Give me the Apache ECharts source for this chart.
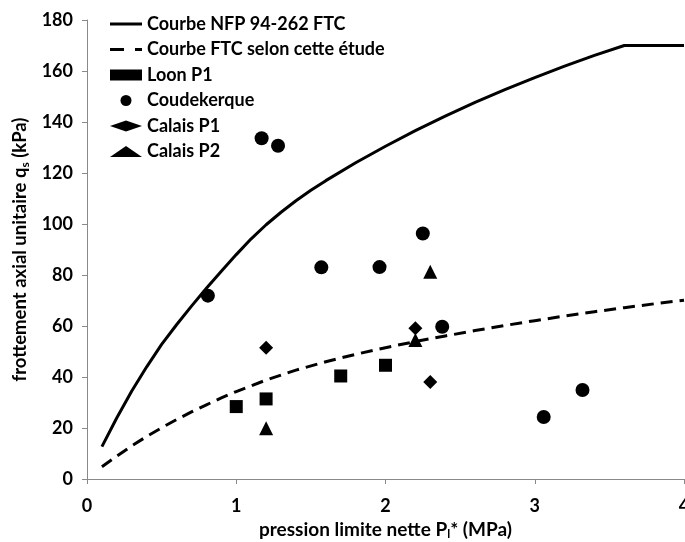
<!DOCTYPE html>
<html>
<head>
<meta charset="utf-8">
<script src="https://cdn.jsdelivr.net/npm/echarts@6/dist/echarts.min.js"></script>
<style>html,body{margin:0;padding:0;background:#fff}#c{width:685px;height:542px}</style>
</head>
<body>
<div id="c"></div>
<script>
// Curves
const nfpX = [0.1,0.2,0.3,0.4,0.5,0.6,0.7,0.8,0.9,1.0,1.1,1.2,1.3,1.4,1.5,1.6,1.8,2.0,2.2,2.4,2.6,2.8,3.0,3.2,3.4,3.6,4.0];
const nfpY = [12.7,24,34.5,44,52.8,60.5,67.8,74.8,81.5,88,94.2,99.7,104.6,109.1,113.2,117,124,130.5,136.6,142.3,147.7,152.7,157.4,161.9,166.1,170,170];
const ftcX = [0.1,0.2,0.3,0.4,0.5,0.6,0.7,0.8,0.9,1.0,1.2,1.4,1.6,1.8,2.0,2.2,2.4,2.6,2.8,3.0,3.2,3.4,3.6,3.8,4.0];
const ftcY = [4.8,9,13,16.7,20.1,23.3,26.3,29.1,31.8,34.3,38.8,42.7,46,48.9,51.5,53.9,56.1,58.2,60.2,62.1,63.9,65.6,67.2,68.7,70.1];
// Measurements
const loonX = [1.0,1.2,1.7,2.0];
const loonY = [28.4,31.4,40.4,44.6];
const coudX = [0.81,1.17,1.28,1.57,1.96,2.25,2.38,3.06,3.32];
const coudY = [71.9,133.6,130.7,83,83.1,96.3,59.7,24.3,34.9];
const cal1X = [1.2,2.2,2.3];
const cal1Y = [51.5,59.1,38];
const cal2X = [1.2,2.2,2.3];
const cal2Y = [19.9,54.5,81.3];
const xTicks = {min:0,max:4,interval:1};
const yTicks = {min:0,max:180,interval:20};
const names = ['Courbe NFP 94-262 FTC','Courbe FTC selon cette étude','Loon P1','Coudekerque','Calais P1','Calais P2'];

const zip = (xs, ys) => xs.map((x,i)=>[x, ys[i]]);
const FONT = 'Lato';
const axisCol = '#898989';
const chart = echarts.init(document.getElementById('c'));
chart.setOption({
  animation:false,
  textStyle:{fontFamily:FONT},
  grid:{left:87,right:1,top:20,bottom:63,containLabel:false,outerBoundsMode:'none'},
  legend:{
    orient:'vertical', left:105, top:10, itemWidth:32, itemHeight:11, itemGap:7.5,
    textStyle:{fontFamily:FONT,fontWeight:'bold',fontSize:18,color:'#000'},
    data:[
      {name:names[0], icon:'path://M0,0H32V3H0Z'},
      {name:names[1], icon:'path://M0,0H14V3H0Z M25,0H32V3H25Z'},
      names[2],names[3],names[4],names[5]
    ]
  },
  xAxis:{
    type:'value', min:xTicks.min, max:xTicks.max, interval:xTicks.interval,
    splitLine:{show:false},
    axisLine:{lineStyle:{color:axisCol,width:1}},
    axisTick:{show:true,length:5,lineStyle:{color:axisCol}},
    axisLabel:{color:'#000',fontWeight:'bold',fontSize:18,margin:18,fontFamily:FONT},
    nameLocation:'middle', nameGap:37,
    name:'{a|pression limite nette P}{s|l}{a|* (MPa)}',
    nameTextStyle:{rich:{
      a:{fontFamily:FONT,fontWeight:'bold',fontSize:19,color:'#000'},
      s:{fontFamily:FONT,fontWeight:'bold',fontSize:12,color:'#000',padding:[9,0,0,0]}
    }}
  },
  yAxis:{
    type:'value', min:yTicks.min, max:yTicks.max, interval:yTicks.interval,
    splitLine:{show:false},
    axisLine:{show:true,lineStyle:{color:axisCol,width:1}},
    axisTick:{show:true,length:5,lineStyle:{color:axisCol}},
    axisLabel:{color:'#000',fontWeight:'bold',fontSize:18,margin:14,fontFamily:FONT},
    nameLocation:'middle', nameGap:50, nameRotate:90,
    name:'{a|frottement axial unitaire q}{s|s}{a| (kPa)}',
    nameTextStyle:{rich:{
      a:{fontFamily:FONT,fontWeight:'bold',fontSize:18.5,color:'#000'},
      s:{fontFamily:FONT,fontWeight:'bold',fontSize:12,color:'#000',padding:[9,0,0,0]}
    }}
  },
  series:[
    {name:names[0],type:'line',data:zip(nfpX,nfpY),showSymbol:false,symbol:'none',smooth:false,
     lineStyle:{color:'#000',width:3},itemStyle:{color:'#000'}},
    {name:names[1],type:'line',data:zip(ftcX,ftcY),showSymbol:false,symbol:'none',smooth:false,
     lineStyle:{color:'#000',width:3,type:[12,7]},itemStyle:{color:'#000'}},
    {name:names[2],type:'scatter',data:zip(loonX,loonY),symbol:'rect',symbolSize:13,itemStyle:{color:'#000',opacity:1}},
    {name:names[3],type:'scatter',data:zip(coudX,coudY),symbol:'circle',symbolSize:14,itemStyle:{color:'#000',opacity:1}},
    {name:names[4],type:'scatter',data:zip(cal1X,cal1Y),symbol:'diamond',symbolSize:14,itemStyle:{color:'#000',opacity:1}},
    {name:names[5],type:'scatter',data:zip(cal2X,cal2Y),symbol:'triangle',symbolSize:14,itemStyle:{color:'#000',opacity:1}}
  ]
});
</script>
</body>
</html>
